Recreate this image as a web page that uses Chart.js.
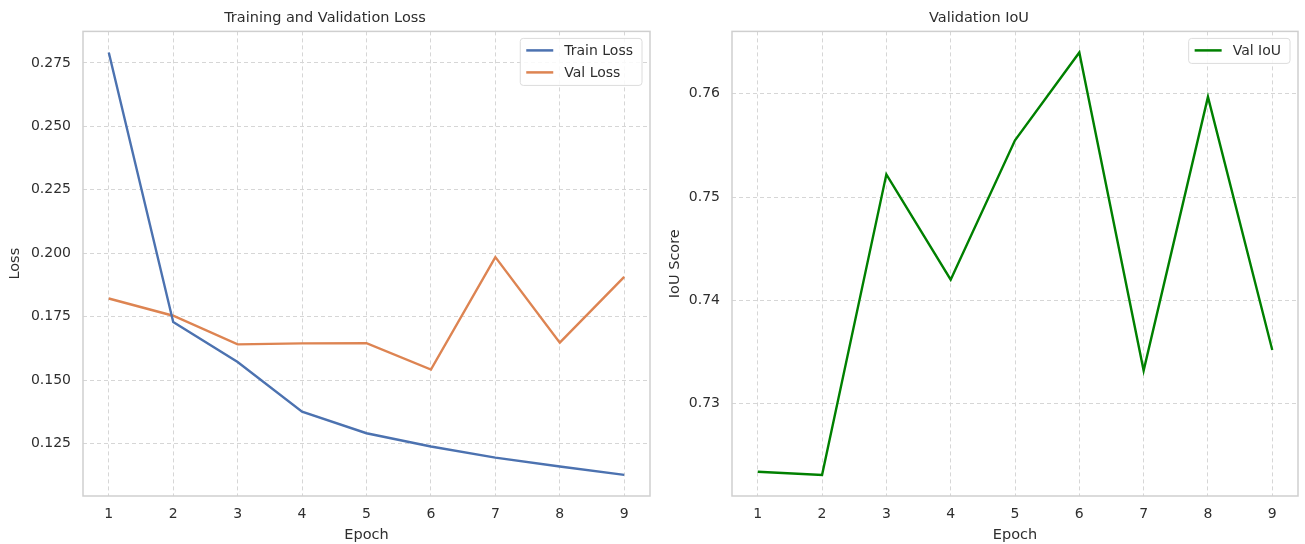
<!DOCTYPE html>
<html>
<head>
<meta charset="utf-8">
<script src="https://cdn.jsdelivr.net/npm/chart.js@4.4.1/dist/chart.umd.min.js"></script>
<style>
  html, body { margin: 0; padding: 0; background: #fff; }
  body { width: 1305px; height: 544px; position: relative; overflow: hidden; }
  .panel { position: absolute; top: 0; height: 544px; }
</style>
</head>
<body>
<div class="panel" style="left:0;width:660px"><canvas id="lossChart" width="660" height="544"></canvas></div>
<div class="panel" style="left:660px;width:645px"><canvas id="iouChart" width="645" height="544"></canvas></div>
<script>
const epochs = [1, 2, 3, 4, 5, 6, 7, 8, 9];
const trainLoss = [0.2791, 0.1729, 0.1572, 0.1376, 0.1291, 0.1239, 0.1195, 0.1160, 0.1127];
const valLoss = [0.1822, 0.1754, 0.1641, 0.1645, 0.1646, 0.1542, 0.1985, 0.1648, 0.1907];
const valIou = [0.7234, 0.7231, 0.7522, 0.7420, 0.7555, 0.7640, 0.7332, 0.7597, 0.7352];
const lossTicks = [0.125, 0.150, 0.175, 0.200, 0.225, 0.250, 0.275];
const iouTicks = [0.73, 0.74, 0.75, 0.76];

const FONT = "'DejaVu Sans', sans-serif";
const TEXT = "#2e2e2e";
const GRID = "#d6d6d6";

function paddedRange(values) {
  const lo = Math.min(...values);
  const hi = Math.max(...values);
  const pad = (hi - lo) * 0.05;
  return { min: lo - pad, max: hi + pad };
}

const framePlugin = {
  id: "frame",
  afterDraw(chart) {
    const { ctx, chartArea: a } = chart;
    ctx.save();
    ctx.strokeStyle = "#cfcfcf";
    ctx.lineWidth = 1.5;
    ctx.strokeRect(a.left, a.top, a.right - a.left, a.bottom - a.top);
    ctx.restore();
  },
};

const boxLegend = {
  id: "boxLegend",
  afterDraw(chart) {
    const { ctx, chartArea: a } = chart;
    const sets = chart.data.datasets;
    ctx.save();
    ctx.font = `14px ${FONT}`;
    const textW = Math.max(...sets.map((d) => ctx.measureText(d.label).width));
    const rowH = 22;
    const w = 44 + textW + 9;
    const h = sets.length * rowH + 3;
    const x = a.right - 8 - w;
    const y = a.top + 7;
    ctx.beginPath();
    ctx.roundRect(x, y, w, h, 3);
    ctx.fillStyle = "rgba(255,255,255,0.85)";
    ctx.fill();
    ctx.strokeStyle = "#dcdcdc";
    ctx.lineWidth = 1;
    ctx.stroke();
    sets.forEach((d, i) => {
      const cy = y + 12 + i * rowH;
      ctx.beginPath();
      ctx.moveTo(x + 6, cy);
      ctx.lineTo(x + 33, cy);
      ctx.strokeStyle = d.borderColor;
      ctx.lineWidth = 2.5;
      ctx.stroke();
      ctx.fillStyle = TEXT;
      ctx.textBaseline = "middle";
      ctx.textAlign = "left";
      ctx.fillText(d.label, x + 44, cy + 1);
    });
    ctx.restore();
  },
};

function buildChart(canvas, { title, yTitle, datasets, yTicks, yRange, yWidth, digits, rightPad }) {
  return new Chart(canvas, {
    type: "line",
    data: { datasets },
    options: {
      responsive: false,
      animation: false,
      layout: { padding: { top: 0, right: rightPad, bottom: 0, left: 0 } },
      elements: { point: { radius: 0 }, line: { borderWidth: 2.4, tension: 0 } },
      plugins: {
        legend: { display: false },
        tooltip: { enabled: false },
        title: {
          display: true,
          text: title,
          color: TEXT,
          font: { family: FONT, size: 14.5, weight: "normal" },
          padding: { top: 10, bottom: 4 },
        },
      },
      scales: {
        x: {
          type: "linear",
          min: 0.6,
          max: 9.4,
          afterBuildTicks: (s) => { s.ticks = epochs.map((v) => ({ value: v })); },
          afterFit: (s) => { s.height = 48; },
          grid: { color: GRID, drawTicks: false },
          border: { display: false, dash: [4, 3] },
          ticks: { color: TEXT, padding: 10, font: { family: FONT, size: 14 } },
          title: {
            display: true,
            text: "Epoch",
            color: TEXT,
            font: { family: FONT, size: 14.5 },
            padding: { top: 0, bottom: 0 },
          },
        },
        y: {
          min: yRange.min,
          max: yRange.max,
          afterBuildTicks: (s) => { s.ticks = yTicks.map((v) => ({ value: v })); },
          afterFit: (s) => { s.width = yWidth; },
          grid: { color: GRID, drawTicks: false },
          border: { display: false, dash: [4, 3] },
          ticks: {
            color: TEXT,
            padding: 12,
            font: { family: FONT, size: 14 },
            callback: (v) => v.toFixed(digits),
          },
          title: {
            display: true,
            text: yTitle,
            color: TEXT,
            font: { family: FONT, size: 14.5 },
            padding: { top: 7, bottom: 0 },
          },
        },
      },
    },
    plugins: [framePlugin, boxLegend],
  });
}

buildChart(document.getElementById("lossChart"), {
  title: "Training and Validation Loss",
  yTitle: "Loss",
  yTicks: lossTicks,
  digits: 3,
  rightPad: 10,
  yRange: paddedRange([...trainLoss, ...valLoss]),
  yWidth: 83,
  datasets: [
    { label: "Train Loss", data: epochs.map((x, i) => ({ x, y: trainLoss[i] })), borderColor: "#4c72b0", backgroundColor: "#4c72b0" },
    { label: "Val Loss", data: epochs.map((x, i) => ({ x, y: valLoss[i] })), borderColor: "#dd8452", backgroundColor: "#dd8452" },
  ],
});

buildChart(document.getElementById("iouChart"), {
  title: "Validation IoU",
  yTitle: "IoU Score",
  yTicks: iouTicks,
  digits: 2,
  rightPad: 7,
  yRange: paddedRange(valIou),
  yWidth: 72,
  datasets: [
    { label: "Val IoU", data: epochs.map((x, i) => ({ x, y: valIou[i] })), borderColor: "#008000", backgroundColor: "#008000" },
  ],
});
</script>
</body>
</html>
